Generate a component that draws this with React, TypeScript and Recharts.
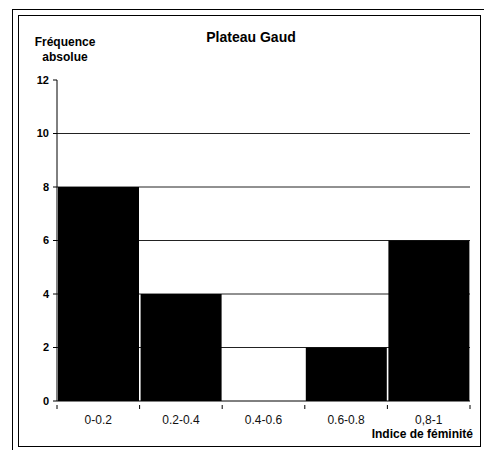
import React from 'react';
import { BarChart, Bar, XAxis, YAxis, CartesianGrid } from 'recharts';

const categories = ['0-0.2', '0.2-0.4', '0.4-0.6', '0.6-0.8', '0,8-1'];
const frequencies = [8, 4, 0, 2, 6];
const yTicks = [0, 2, 4, 6, 8, 10, 12];
const gridValues = [2, 4, 6, 8, 10];
const yMax = 12;

const data = categories.map((c, i) => ({ cat: c, value: frequencies[i] }));

const FONT = '"Liberation Sans", Arial, sans-serif';

const gridGen = (p: any) => {
  const s = p && p.yAxis && p.yAxis.scale;
  if (typeof s === 'function') return gridValues.map((v) => s(v));
  if (s && typeof s.map === 'function') return gridValues.map((v) => s.map(v));
  const o = p.offset;
  return gridValues.map((v) => o.top + o.height * (1 - v / yMax));
};

const XTick = (props: any) => {
  const { x, y, payload, index } = props;
  const off = payload && payload.offset ? payload.offset : 0;
  const last = index === categories.length - 1;
  return (
    <g>
      <line x1={x - off} y1={y - 4} x2={x - off} y2={y} stroke="#000" strokeWidth={1} />
      {last && <line x1={x + off} y1={y - 4} x2={x + off} y2={y} stroke="#000" strokeWidth={1} />}
      <text x={x} y={y + 15} textAnchor="middle" fontFamily={FONT} fontSize={12} fill="#111">
        {payload.value}
      </text>
    </g>
  );
};

export default function App() {
  return (
    <div style={{ position: 'absolute', left: 0, top: 0, width: 484, height: 450, background: '#fff', overflow: 'hidden' }}>
      <div style={{ position: 'absolute', left: 12, top: 9, width: 480, height: 450, border: '1.5px solid #000', boxSizing: 'border-box' }} />
      <div style={{ position: 'absolute', left: 18, top: 15, width: 463, height: 432, border: '1.5px solid #000', boxSizing: 'border-box' }} />
      <div style={{ position: 'absolute', left: 151, top: 30, width: 200, textAlign: 'center', fontFamily: FONT, fontWeight: 'bold', fontSize: 14, lineHeight: '14px', color: '#000' }}>
        Plateau Gaud
      </div>
      <div style={{ position: 'absolute', left: 25, top: 35, width: 80, textAlign: 'center', fontFamily: FONT, fontWeight: 'bold', fontSize: 12, lineHeight: '15px', color: '#000' }}>
        Fréquence<br />absolue
      </div>
      <div style={{ position: 'absolute', right: 11, top: 428, whiteSpace: 'nowrap', fontFamily: FONT, fontWeight: 'bold', fontSize: 12, lineHeight: '12px', color: '#000' }}>
        Indice de féminité
      </div>
      <div style={{ position: 'absolute', left: 0, top: 0 }}>
        <BarChart
          width={484}
          height={450}
          data={data}
          margin={{ top: 80, right: 14, left: 0, bottom: 0 }}
          barCategoryGap={1}
        >
          <CartesianGrid
            vertical={false}
            stroke="#222"
            strokeWidth={1}
            horizontalCoordinatesGenerator={gridGen}
          />
          <XAxis
            dataKey="cat"
            height={49}
            stroke="#000"
            tickLine={false}
            tick={<XTick />}
            interval={0}
          />
          <YAxis
            width={57}
            domain={[0, yMax]}
            ticks={yTicks}
            interval={0}
            stroke="#000"
            tickSize={4}
            tickMargin={4}
            tick={{ fontFamily: FONT, fontWeight: 'bold', fontSize: 11, fill: '#000' }}
          />
          <Bar dataKey="value" fill="#000" isAnimationActive={false} />
        </BarChart>
      </div>
    </div>
  );
}
